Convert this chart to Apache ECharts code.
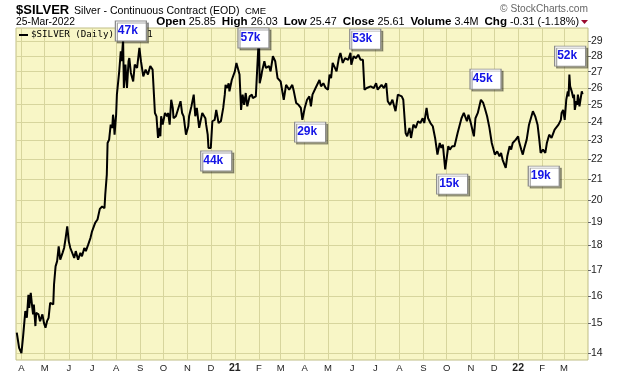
<!DOCTYPE html>
<html>
<head>
<meta charset="utf-8">
<script src="https://cdn.jsdelivr.net/npm/echarts@6/dist/echarts.min.js"></script>
<style>
html, body { margin: 0; padding: 0; background: #fff; }
#chart { width: 620px; height: 376px; }
</style>
</head>
<body>
<div id="chart"></div>
<script>
// daily closes (log price scale)
var dates = [
    '2020-03-26','2020-03-29','2020-04-01','2020-04-03','2020-04-06','2020-04-08','2020-04-10','2020-04-11','2020-04-13','2020-04-15',
    '2020-04-16','2020-04-17','2020-04-19','2020-04-20','2020-04-23','2020-04-25','2020-04-28','2020-04-30','2020-05-02','2020-05-04',
    '2020-05-06','2020-05-08','2020-05-12','2020-05-13','2020-05-15','2020-05-17','2020-05-19','2020-05-21','2020-05-24','2020-05-26',
    '2020-05-28','2020-05-30','2020-06-01','2020-06-03','2020-06-05','2020-06-08','2020-06-10','2020-06-13','2020-06-16','2020-06-18',
    '2020-06-21','2020-06-23','2020-06-26','2020-06-29','2020-07-01','2020-07-05','2020-07-08','2020-07-11','2020-07-14','2020-07-17',
    '2020-07-18','2020-07-20','2020-07-21','2020-07-23','2020-07-25','2020-07-27','2020-07-28','2020-07-29','2020-07-30','2020-08-01',
    '2020-08-02','2020-08-05','2020-08-07','2020-08-08','2020-08-10','2020-08-11','2020-08-13','2020-08-15','2020-08-17','2020-08-18',
    '2020-08-20','2020-08-23','2020-08-25','2020-08-28','2020-08-31','2020-09-02','2020-09-05','2020-09-08','2020-09-11','2020-09-14',
    '2020-09-17','2020-09-18','2020-09-20','2020-09-22','2020-09-24','2020-09-26','2020-09-27','2020-09-28','2020-09-30','2020-10-03',
    '2020-10-06','2020-10-07','2020-10-09','2020-10-11','2020-10-13','2020-10-14','2020-10-17','2020-10-21','2020-10-23','2020-10-25',
    '2020-10-27','2020-10-30','2020-11-02','2020-11-03','2020-11-06','2020-11-09','2020-11-11','2020-11-13','2020-11-15','2020-11-16',
    '2020-11-20','2020-11-22','2020-11-24','2020-11-25','2020-11-27','2020-11-28','2020-12-01','2020-12-03','2020-12-06','2020-12-08',
    '2020-12-11','2020-12-14','2020-12-17','2020-12-19','2020-12-20','2020-12-22','2020-12-24','2020-12-25','2020-12-28','2020-12-29',
    '2021-01-01','2021-01-03','2021-01-05','2021-01-07','2021-01-09','2021-01-11','2021-01-13','2021-01-15','2021-01-17','2021-01-20',
    '2021-01-23','2021-01-24','2021-01-28','2021-02-01','2021-02-02','2021-02-04','2021-02-05','2021-02-08','2021-02-10','2021-02-12',
    '2021-02-14','2021-02-16','2021-02-19','2021-02-22','2021-02-25','2021-03-01','2021-03-05','2021-03-08','2021-03-12','2021-03-16',
    '2021-03-18','2021-03-21','2021-03-24','2021-03-27','2021-03-29','2021-04-01','2021-04-04','2021-04-07','2021-04-09','2021-04-11',
    '2021-04-15','2021-04-17','2021-04-20','2021-04-22','2021-04-25','2021-04-28','2021-05-01','2021-05-03','2021-05-05','2021-05-07',
    '2021-05-09','2021-05-12','2021-05-15','2021-05-17','2021-05-20','2021-05-23','2021-05-27','2021-05-30','2021-05-31','2021-06-03',
    '2021-06-06','2021-06-09','2021-06-12','2021-06-15','2021-06-17','2021-06-20','2021-06-25','2021-06-29','2021-07-02','2021-07-04',
    '2021-07-09','2021-07-12','2021-07-15','2021-07-17','2021-07-20','2021-07-23','2021-07-27','2021-07-30','2021-08-04','2021-08-06',
    '2021-08-09','2021-08-11','2021-08-14','2021-08-16','2021-08-19','2021-08-22','2021-08-25','2021-08-28','2021-08-31','2021-09-02',
    '2021-09-05','2021-09-07','2021-09-10','2021-09-13','2021-09-16','2021-09-19','2021-09-22','2021-09-24','2021-09-26','2021-09-29',
    '2021-10-03','2021-10-05','2021-10-08','2021-10-11','2021-10-15','2021-10-17','2021-10-20','2021-10-23','2021-10-27','2021-10-29',
    '2021-11-01','2021-11-03','2021-11-05','2021-11-07','2021-11-10','2021-11-14','2021-11-17','2021-11-19','2021-11-22','2021-11-25',
    '2021-11-28','2021-12-02','2021-12-05','2021-12-08','2021-12-10','2021-12-12','2021-12-16','2021-12-18','2021-12-21','2021-12-23',
    '2021-12-25','2021-12-29','2022-01-01','2022-01-02','2022-01-05','2022-01-07','2022-01-09','2022-01-12','2022-01-15','2022-01-20',
    '2022-01-23','2022-01-26','2022-01-28','2022-01-30','2022-02-02','2022-02-05','2022-02-07','2022-02-10','2022-02-13','2022-02-17',
    '2022-02-19','2022-02-22','2022-02-25','2022-02-26','2022-02-28','2022-03-02','2022-03-04','2022-03-06','2022-03-07','2022-03-08',
    '2022-03-09','2022-03-11','2022-03-13','2022-03-14','2022-03-15','2022-03-17','2022-03-18','2022-03-19','2022-03-21','2022-03-22',
    '2022-03-24','2022-03-25'
];
var prices = [
    14.68,14.17,14.00,14.51,15.44,15.20,16.04,15.56,16.11,15.56,
    15.32,15.68,14.91,15.38,15.32,15.08,15.32,15.02,14.85,15.08,
    15.20,15.74,15.68,16.43,17.14,17.35,17.96,17.41,17.69,17.89,
    18.32,18.82,18.17,17.89,17.82,17.48,17.76,17.41,17.69,17.55,
    17.89,17.76,18.03,18.32,18.60,18.97,19.12,19.60,19.71,19.63,
    20.26,21.23,22.86,23.04,23.86,23.68,24.42,24.05,23.31,24.42,
    25.59,27.02,28.32,27.67,29.10,25.99,27.45,25.99,27.67,27.87,
    26.92,26.39,27.45,27.24,28.54,27.67,26.71,27.13,26.82,27.36,
    27.13,27.03,24.52,24.33,23.13,23.68,23.22,24.33,23.86,24.52,
    24.33,24.52,23.86,25.29,24.81,24.22,24.33,24.91,25.20,24.52,
    24.33,23.31,23.77,24.33,24.90,25.59,24.33,24.81,24.05,23.68,
    24.52,24.62,24.22,23.86,23.31,22.60,22.60,24.05,24.13,24.70,
    23.95,24.05,24.81,25.59,26.18,25.99,26.28,25.79,26.48,26.39,
    27.02,27.56,27.45,26.82,24.70,25.59,24.99,25.69,24.90,25.49,
    25.59,25.39,25.49,29.40,26.28,26.71,27.02,27.67,27.24,27.13,
    27.36,27.02,27.99,27.67,26.60,26.39,25.29,26.18,25.89,26.18,
    25.79,25.10,24.99,24.81,24.13,24.81,25.29,25.49,24.90,25.59,
    25.99,25.89,26.48,26.09,26.28,25.99,25.89,26.82,26.60,27.56,
    27.45,27.02,27.87,28.21,27.56,27.87,27.76,28.21,27.45,27.99,
    27.87,28.09,27.76,27.76,25.89,25.99,26.09,25.99,26.28,25.89,
    26.18,25.99,26.28,25.20,24.99,25.29,24.62,25.59,25.49,25.29,
    23.40,23.22,23.68,23.13,23.86,23.68,24.05,23.95,24.22,23.95,
    24.81,24.22,23.95,23.77,23.13,22.25,22.86,22.60,22.77,21.49,
    22.69,22.51,22.69,22.69,23.40,23.31,24.22,24.52,24.05,24.42,
    23.95,24.05,23.22,24.22,24.52,25.29,25.10,24.81,24.33,23.68,
    22.86,22.25,22.42,22.16,22.34,21.98,21.57,22.16,22.69,22.51,
    22.86,23.04,23.22,22.95,22.51,22.25,22.60,23.04,23.86,24.62,
    24.33,23.86,23.13,22.34,22.51,22.34,22.86,23.31,23.13,23.59,
    23.68,23.86,24.13,24.52,24.70,24.13,25.29,25.79,25.49,26.82,
    26.09,25.79,25.39,25.59,24.70,25.20,24.99,25.59,24.90,25.20,
    25.79,25.61
];

// month gridlines and their labels
var monthTicks = [
    '2020-04-01','2020-05-01','2020-06-01','2020-07-01','2020-08-01','2020-09-01','2020-10-01','2020-11-01','2020-12-01',
    '2021-01-01','2021-02-01','2021-03-01','2021-04-01','2021-05-01','2021-06-01','2021-07-01','2021-08-01','2021-09-01',
    '2021-10-01','2021-11-01','2021-12-01','2022-01-01','2022-02-01','2022-03-01'
];
var monthLabels = ['A','M','J','J','A','S','O','N','D','21','F','M','A','M','J','J','A','S','O','N','D','22','F','M'];
var priceTicks = [14,15,16,17,18,19,20,21,22,23,24,25,26,27,28,29];

// volume callouts
var noteDates = ['2020-08-20','2021-01-25','2021-06-18','2021-04-08','2020-12-08','2021-11-20','2021-10-08','2022-02-03','2022-03-09'];
var notePrices = [29.69, 29.21, 29.14, 23.45, 21.92, 26.54, 20.77, 21.16, 28.0];
var noteTexts = ['47k','57k','53k','29k','44k','45k','15k','19k','52k'];

var FONT = '"Liberation Sans", Arial, sans-serif';
var monthTs = monthTicks.map(function (d) { return Date.parse(d); });

var seriesData = dates.map(function (d, i) {
    return [Date.parse(d), Math.log(prices[i])];
});
var notesData = noteDates.map(function (d, i) {
    return { name: noteTexts[i], coord: [Date.parse(d), Math.log(notePrices[i])] };
});

var chart = echarts.init(document.getElementById('chart'));
chart.setOption({
    animation: false,
    textStyle: { fontFamily: FONT },
    grid: {
        left: 16, right: 32, top: 28, bottom: 16,
        show: true,
        backgroundColor: '#f8f6c6',
        borderColor: '#c0be86',
        borderWidth: 1
    },
    xAxis: {
        type: 'value',
        min: Date.parse('2020-03-25'),
        max: Date.parse('2022-04-01'),
        axisLine: { show: false },
        axisTick: { show: false, customValues: monthTs },
        splitLine: { show: true, lineStyle: { color: '#d7d59d', width: 1 } },
        axisLabel: {
            customValues: monthTs,
            margin: 3,
            fontSize: 9.5,
            color: '#222',
            formatter: function (v) {
                var s = monthLabels[monthTs.indexOf(v)] || '';
                return /\d/.test(s) ? '{y|' + s + '}' : s;
            },
            rich: { y: { fontWeight: 'bold', fontSize: 10.5, color: '#222' } }
        }
    },
    yAxis: {
        type: 'value',
        position: 'right',
        min: Math.log(13.774),
        max: Math.log(29.9),
        axisLine: { show: false },
        axisTick: {
            show: true,
            customValues: priceTicks.map(Math.log),
            length: 3,
            lineStyle: { color: '#666' }
        },
        splitLine: { show: true, lineStyle: { color: '#d7d59d', width: 1 } },
        axisLabel: {
            customValues: priceTicks.map(Math.log),
            margin: 3,
            fontSize: 10.5,
            color: '#222',
            formatter: function (v) { return Math.round(Math.exp(v)); }
        }
    },
    series: [{
        type: 'line',
        data: seriesData,
        showSymbol: false,
        symbol: 'none',
        lineStyle: { color: '#000', width: 2 },
        markPoint: {
            symbol: 'rect',
            symbolSize: [31, 20],
            itemStyle: {
                color: '#fff',
                borderColor: '#8a8a8a',
                borderWidth: 1,
                shadowColor: 'rgba(0,0,0,0.35)',
                shadowOffsetX: 2,
                shadowOffsetY: 2,
                shadowBlur: 0
            },
            label: {
                show: true,
                position: 'inside',
                offset: [-3, 0],
                formatter: '{b}',
                color: '#1414e6',
                fontWeight: 'bold',
                fontSize: 12,
                fontFamily: FONT
            },
            data: notesData
        }
    }],
    graphic: [
        {
            type: 'text', z: 100,
            style: { x: 16, y: 10, text: '$SILVER', font: 'bold 13px ' + FONT, fill: '#000', verticalAlign: 'middle' }
        },
        {
            type: 'text', z: 100,
            style: { x: 74, y: 11, text: 'Silver - Continuous Contract (EOD)', font: '10.6px ' + FONT, fill: '#000', verticalAlign: 'middle' }
        },
        {
            type: 'text', z: 100,
            style: { x: 245, y: 11, text: 'CME', font: '9.5px ' + FONT, fill: '#000', verticalAlign: 'middle' }
        },
        {
            type: 'text', z: 100,
            style: { x: 16, y: 22, text: '25-Mar-2022', font: '10.3px ' + FONT, fill: '#000', verticalAlign: 'middle' }
        },
        {
            type: 'text', z: 100,
            style: {
                x: 579, y: 22, align: 'right', verticalAlign: 'middle',
                text: '{b|Open} 25.85  {b|High} 26.03  {b|Low} 25.47  {b|Close} 25.61  {b|Volume} 3.4M  {b|Chg} -0.31 (-1.18%)',
                font: '10.8px ' + FONT, fill: '#000',
                rich: { b: { fontWeight: 'bold', fontSize: 11.6, fontFamily: FONT, fill: '#000' } }
            }
        },
        {
            type: 'polygon', z: 100,
            shape: { points: [[581, 20], [588, 20], [584.5, 24]] },
            style: { fill: '#9a0b2e' }
        },
        {
            type: 'text', z: 100,
            style: { x: 588, y: 9, align: 'right', verticalAlign: 'middle', text: '\u00a9 StockCharts.com', font: '10.2px ' + FONT, fill: '#666' }
        },
        {
            type: 'rect', z: 1,
            shape: { x: 19, y: 34, width: 9, height: 2 },
            style: { fill: '#000' }
        },
        {
            type: 'text', z: 1,
            style: { x: 31, y: 35, verticalAlign: 'middle', text: '$SILVER (Daily)  25.61', font: '9.2px "DejaVu Sans Mono", monospace', fill: '#000' }
        }
    ]
});
</script>
</body>
</html>
